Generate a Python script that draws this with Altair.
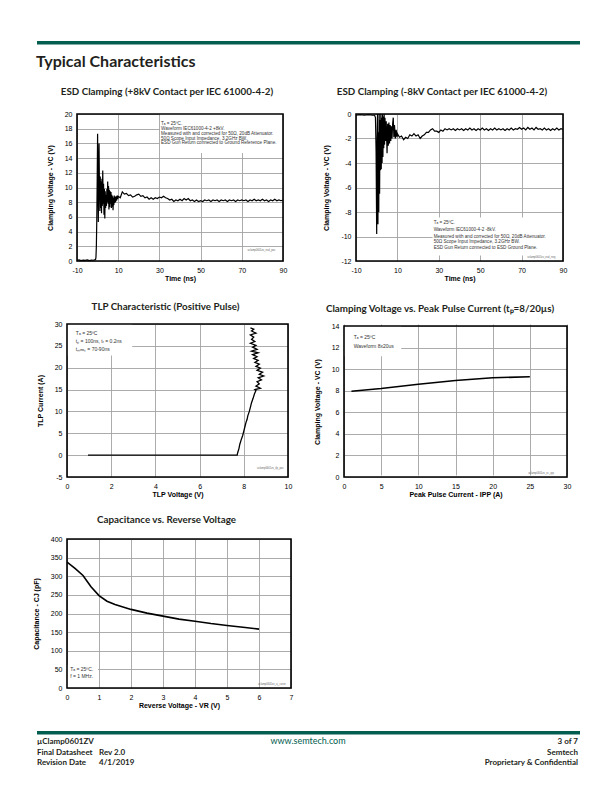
import altair as alt
import pandas as pd

# ---------------- data ----------------
# ESD clamping +8kV
esd_pos_t = [-10, -9, -8, -7, -6, -5, -4, -3, -2, -1.5, -1, -0.8, -0.6, -0.4, -0.2, 0,
             0.2, 0.35, 0.5, 0.7, 0.9, 1.1, 1.3, 1.5, 1.7, 1.9, 2.1, 2.3, 2.5, 2.7, 2.9, 3.1, 3.3, 3.5,
             3.7, 3.9, 4.1, 4.3, 4.5, 4.7, 4.9, 5.1, 5.3, 5.5, 5.7, 5.9, 6.1, 6.3, 6.5, 6.7, 6.9, 7.1,
             7.3, 7.5, 7.7, 7.9, 8.1, 8.3, 8.5, 8.7, 8.9, 9.2, 9.5, 9.8,
             10, 11, 12, 13, 14, 15, 16, 17, 18, 19, 20, 21, 22, 23, 24, 25, 26, 27, 28, 29,
             30, 31, 32, 33, 34, 35, 36, 37, 38, 39, 40, 41, 42, 43, 44, 45, 46, 47, 48, 49,
             50, 51, 52, 53, 54, 55, 56, 57, 58, 59, 60, 61, 62, 63, 64, 65, 66, 67, 68, 69,
             70, 71, 72, 73, 74, 75, 76, 77, 78, 79, 80, 81, 82, 83, 84, 85, 86, 87, 88, 89, 90]
esd_pos_v = [0.1, 0.15, 0.05, 0.12, 0.08, 0.15, 0.05, 0.12, 0.1, 0.15, 0.2, 0.5, 2.0, 5.5, 11, 17.3,
             9, 5.3, 12, 16, 10, 6.8, 11.5, 7.2, 10.8, 6.5, 11.2, 7.5, 12.3, 7.8, 10.5, 6.3, 9.8, 5.8,
             9.5, 7.2, 9.0, 7.5, 9.8, 8.0, 10.8, 7.8, 10.2, 7.0, 9.7, 7.3, 9.5, 7.8, 9.4, 7.2, 9.0, 7.4,
             8.8, 6.9, 8.6, 7.6, 8.9, 7.9, 8.7, 8.0, 8.8, 8.2, 8.9, 8.4,
             8.8, 8.6, 9.4, 9.1, 9.2, 8.9, 9.0, 8.7, 8.8, 9.0, 9.1, 8.8, 8.9, 8.6, 8.7, 8.4, 8.6, 8.4, 8.6, 8.5,
             8.7, 8.6, 8.8, 8.6, 8.5, 8.3, 8.4, 8.1, 8.3, 8.2, 8.4, 8.2, 8.5, 8.3, 8.5, 8.2, 8.3, 8.1, 8.3, 8.1,
             8.2, 8.1, 8.3, 8.2, 8.3, 8.1, 8.3, 8.2, 8.3, 8.1, 8.3, 8.2, 8.3, 8.1, 8.3, 8.2, 8.3, 8.1, 8.3, 8.2,
             8.3, 8.2, 8.3, 8.1, 8.3, 8.2, 8.4, 8.2, 8.3, 8.2, 8.4, 8.2, 8.3, 8.1, 8.3, 8.2, 8.4, 8.2, 8.3, 8.2, 8.3]

# ESD clamping -8kV
esd_neg_t = [-10, -8, -6, -4, -2, -1, -0.6, -0.3, 0, 0.2, 0.4, 0.6, 0.8, 1.0, 1.2, 1.4, 1.6, 1.8,
             2.0, 2.2, 2.4, 2.6, 2.8, 3.0, 3.2, 3.4, 3.6, 3.8, 4.0, 4.3, 4.6, 5.0, 5.3, 5.6, 5.9,
             6.2, 6.5, 6.8, 7.1, 7.4, 7.7, 8.0, 8.3, 8.6, 9.0, 9.4, 9.8,
             10, 11, 12, 13, 14, 15, 16, 17, 18, 19, 20, 21, 22, 23, 24, 25, 26, 27, 28, 29,
             30, 31, 32, 33, 34, 35, 36, 37, 38, 39, 40, 41, 42, 43, 44, 45, 46, 47, 48, 49,
             50, 51, 52, 53, 54, 55, 56, 57, 58, 59, 60, 61, 62, 63, 64, 65, 66, 67, 68, 69,
             70, 71, 72, 73, 74, 75, 76, 77, 78, 79, 80, 81, 82, 83, 84, 85, 86, 87, 88, 89, 90]
esd_neg_v = [-0.1, -0.05, -0.1, -0.05, -0.1, -0.1, -0.3, -3, -9.8, -2, 0, -9.0, -1.5, -8.0, 0, -6.5, -0.5, -4.6,
             0, -4.5, -0.3, -4.0, 0, -3.5, -0.2, -2.8, 0, -2.5, -0.3, -2.2, -0.6, -3.2, -0.8, -2.6, -0.7,
             -2.4, -0.9, -2.2, -1.0, -2.0, -0.8, -0.3, -1.9, -0.9, -2.0, -1.3, -1.9,
             -1.6, -1.9, -1.8, -2.1, -1.9, -2.0, -1.7, -1.8, -1.6, -1.8, -1.7, -2.0, -1.8, -1.7, -1.5, -1.5, -1.3, -1.2, -1.4, -1.4,
             -1.5, -1.3, -1.4, -1.2, -1.3, -1.2, -1.3, -1.2, -1.35, -1.2, -1.3, -1.2, -1.35, -1.2, -1.3, -1.15, -1.3, -1.2, -1.35, -1.2,
             -1.3, -1.15, -1.3, -1.2, -1.35, -1.2, -1.3, -1.15, -1.3, -1.2, -1.3, -1.2, -1.35, -1.2, -1.3, -1.15, -1.3, -1.2, -1.25, -1.1,
             -1.25, -1.15, -1.3, -1.1, -1.25, -1.15, -1.3, -1.1, -1.25, -1.2, -1.3, -1.15, -1.3, -1.2, -1.35, -1.2, -1.3, -1.15, -1.3, -1.2, -1.25]

# TLP characteristic
tlp_v = [0.95, 7.7, 7.72, 7.78, 7.82, 7.88, 7.95, 8.0, 8.05, 8.1, 8.15, 8.18, 8.25, 8.3, 8.35, 8.42, 8.48, 8.55,
         8.5, 8.75, 8.55, 8.7, 8.6, 8.8, 8.65, 8.9, 8.7, 8.85, 8.6, 8.75, 8.55, 8.7, 8.5, 8.65, 8.45,
         8.6, 8.4, 8.65, 8.35, 8.6, 8.4, 8.55, 8.3, 8.5, 8.35, 8.45, 8.3, 8.55, 8.35, 8.45, 8.3]
tlp_i = [0, 0, 0.5, 1.5, 2.5, 3.5, 4.5, 5.5, 6.5, 7.5, 8.2, 9, 10, 11, 12, 13, 14, 14.8,
         15, 15.3, 15.8, 16.3, 16.8, 17.2, 17.7, 18.1, 18.5, 19, 19.4, 19.9, 20.3, 20.8, 21.2, 21.7, 22.1,
         22.5, 23, 23.4, 23.8, 24.2, 24.7, 25.1, 25.6, 26, 26.5, 27, 27.5, 27.9, 28.4, 28.8, 29.1]

# Clamping voltage vs peak pulse current
ipp = [1, 5, 10, 15, 20, 25]
vc = [7.95, 8.2, 8.6, 8.95, 9.2, 9.3]

# Capacitance vs reverse voltage
vr = [0, 0.25, 0.5, 0.75, 1, 1.25, 1.5, 2, 2.5, 3, 3.5, 4, 4.5, 5, 5.5, 6]
cj = [338, 321, 302, 272, 248, 233, 224, 211, 201, 193, 185, 179, 173, 168, 163, 158]

# axis tick values
x1_ticks = [-10, 10, 30, 50, 70, 90]
y1_ticks = [0, 2, 4, 6, 8, 10, 12, 14, 16, 18, 20]
y2_ticks = [-12, -10, -8, -6, -4, -2, 0]
x3_ticks = [0, 2, 4, 6, 8, 10]
y3_ticks = [-5, 0, 5, 10, 15, 20, 25, 30]
x4_ticks = [0, 5, 10, 15, 20, 25, 30]
y4_ticks = [0, 2, 4, 6, 8, 10, 12, 14]
x5_ticks = [0, 1, 2, 3, 4, 5, 6, 7]
y5_ticks = [0, 50, 100, 150, 200, 250, 300, 350, 400]

notes1 = ["Tₐ = 25ºC.", "Waveform IEC61000-4-2 +8kV.",
          "Measured with and corrected for 50Ω, 20dB Attenuator.",
          "50Ω Scope Input Impedance, 3.2GHz BW.",
          "ESD Gun Return connected to Ground Reference Plane."]
notes2 = ["Tₐ = 25ºC.", "Waveform IEC61000-4-2 -8kV.",
          "Measured with and corrected for 50Ω, 20dB Attenuator.",
          "50Ω Scope Input Impedance, 3.2GHz BW.",
          "ESD Gun Return connected to ESD Ground Plane."]
notes3 = ["Tₐ = 25ºC", "tₚ = 100ns, tᵣ = 0.2ns", "tₘₑₐₛ = 70-90ns"]
notes4 = ["Tₐ = 25ºC", "Waveform 8x20us"]
notes5 = ["Tₐ = 25ºC.", "f = 1 MHz."]

# ---------------- styling ----------------
GREEN = "#035e4f"
TF = "Lato"
AF = "Liberation Sans"
GRID = "#a3a3a3"
INK = "#231f20"


def axis(values, title, label_pad, title_pad, offset=0, title_x=None):
    kw = {}
    if offset:
        kw["offset"] = offset
    if title_x is not None:
        kw["titleX"] = title_x
    return alt.Axis(values=values, title=title, grid=True, gridColor=GRID, gridWidth=0.9,
                    domain=False, ticks=False, labelFont=AF, labelFontSize=7, labelColor="black",
                    labelPadding=label_pad, labelFlush=False, labelOverlap=False,
                    labelExpr="replace(datum.label, '\u2212', '-')",
                    titleFont=AF, titleFontSize=7, titleFontWeight="bold", titleColor="black",
                    titlePadding=title_pad, **kw)


def panel(xs_, ys_, xdom, ydom, xticks, yticks, xtitle, ytitle, title, tdx, toff, w, h,
          box, notes, note_x, note_y, note_size, wm, wm_x, wm_y, sw=1.2, left=0, top=0):
    if left:
        xs = alt.Scale(domain=xdom, nice=False, zero=False, range=[left, w])
        ax = axis(xticks, xtitle, 5, 1, title_x=(left + w) / 2)
        ay = axis(yticks, ytitle, 5, 11, offset=-left)
    else:
        xs = alt.Scale(domain=xdom, nice=False, zero=False)
        ax = axis(xticks, xtitle, 5, 1)
        ay = axis(yticks, ytitle, 5, 11)
    if top:
        ys = alt.Scale(domain=ydom, nice=False, zero=False, range=[h, top])
    else:
        ys = alt.Scale(domain=ydom, nice=False, zero=False)
    df = pd.DataFrame({"x": xs_, "y": ys_, "i": list(range(len(xs_)))})
    bdf = pd.DataFrame({"x0": [box[0]], "x1": [box[1]], "y0": [box[2]], "y1": [box[3]]})
    fdf = pd.DataFrame({"x0": [xdom[0]], "x1": [xdom[1]], "y0": [ydom[0]], "y1": [ydom[1]]})
    ndf = pd.DataFrame({"x": [note_x] * len(notes), "y": note_y, "s": notes})
    wdf = pd.DataFrame({"x": [wm_x], "y": [wm_y], "s": [wm]})
    bx = alt.Chart(bdf).mark_rect(fill="white").encode(
        x=alt.X("x0:Q", scale=xs, axis=ax), x2="x1:Q",
        y=alt.Y("y0:Q", scale=ys, axis=ay), y2="y1:Q")
    ln = alt.Chart(df).mark_line(color="black", strokeWidth=sw, clip=True).encode(
        x=alt.X("x:Q", scale=xs, axis=ax), y=alt.Y("y:Q", scale=ys, axis=ay), order="i:Q")
    nt = alt.Chart(ndf).mark_text(align="left", baseline="middle", font=AF,
                                  fontSize=note_size, color="#333333").encode(
        x=alt.X("x:Q", scale=xs, axis=ax), y=alt.Y("y:Q", scale=ys, axis=ay), text="s:N")
    wt = alt.Chart(wdf).mark_text(align="center", baseline="middle", font=AF,
                                  fontSize=2.6, color="#666666").encode(
        x=alt.X("x:Q", scale=xs, axis=ax), y=alt.Y("y:Q", scale=ys, axis=ay), text="s:N")
    fr = alt.Chart(fdf).mark_rect(fillOpacity=0, stroke="black", strokeWidth=1.6).encode(
        x=alt.X("x0:Q", scale=xs, axis=ax), x2="x1:Q",
        y=alt.Y("y0:Q", scale=ys, axis=ay), y2="y1:Q")
    return alt.layer(bx, ln, nt, wt, fr).properties(
        width=w, height=h,
        title=alt.TitleParams(text=title, font=TF, fontSize=9.8, fontWeight="bold", color=INK,
                              anchor="middle", frame="group", dx=tdx, offset=toff),
        view=alt.ViewBackground(stroke="transparent"))


def spacer(w, h):
    return alt.Chart(pd.DataFrame({"v": [0]})).mark_point(opacity=0).encode(
        x=alt.value(0), y=alt.value(0)).properties(
        width=w, height=h, view=alt.ViewBackground(stroke="transparent"))


one = pd.DataFrame({"v": [0]})

c1 = panel(esd_pos_t, esd_pos_v, [-10, 90], [0, 20], x1_ticks, y1_ticks, "Time (ns)",
           "Clamping Voltage - VC (V)", "ESD Clamping (+8kV Contact per IEC 61000-4-2)", -8, 13,
           216, 147, [30.3, 90, 14.7, 20], notes1, 30.8, [18.6, 17.96, 17.32, 16.64, 16.0], 4.6,
           "uclamp0601zv_esd_pos", 79.5, 1.4, left=10)
c2 = panel(esd_neg_t, esd_neg_v, [-10, 90], [-12, 0], x1_ticks, y2_ticks, "Time (ns)",
           "Clamping Voltage - VC (V)", "ESD Clamping (-8kV Contact per IEC 61000-4-2)", -11.5, 13,
           219, 147, [27, 90, -11.55, -8.45], notes2, 27.5, [-8.9, -9.47, -10.0, -10.47, -10.96], 4.6,
           "uclamp0601zv_esd_neg", 79.5, -11.7, left=12)
c3 = panel(tlp_v, tlp_i, [0, 10], [-5, 30], x3_ticks, y3_ticks, "TLP Voltage (V)",
           "TLP Current (A)", "TLP Characteristic (Positive Pulse)", -12, 8,
           221, 153, [0, 2.95, 22.8, 30], notes3, 0.4, [27.9, 26.0, 24.3], 5,
           "uclamp0601zv_tlp_pos", 9.2, -3.0, 1.3)
c4 = panel(ipp, vc, [0, 30], [0, 14], x4_ticks, y4_ticks, "Peak Pulse Current - IPP (A)",
           "Clamping Voltage - VC (V)", "Clamping Voltage vs. Peak Pulse Current (tₚ=8/20µs)", -15.5, 8,
           223, 153, [0, 7.7, 11.2, 14], notes4, 1.3, [12.95, 12.17], 5,
           "uclamp0601zv_vc_ipp", 26.5, 0.3, 1.6, top=2)
c5 = panel(vr, cj, [0, 7], [0, 400], x5_ticks, y5_ticks, "Reverse Voltage - VR (V)",
           "Capacitance - CJ (pF)", "Capacitance vs. Reverse Voltage", -12.5, 10,
           224, 149, [0, 0.97, 0, 62], notes5, 0.1, [51, 33], 5,
           "uclamp0601zv_cj_curve", 6.4, 11, 1.6)

# header
header = alt.layer(
    alt.Chart(one).mark_rule(color=GREEN, strokeWidth=3.5).encode(
        x=alt.value(-30), x2=alt.value(513), y=alt.value(1.75)),
    alt.Chart(one).mark_text(text="Typical Characteristics", font=TF, fontSize=16,
                             fontWeight="bold", align="left", baseline="alphabetic",
                             color=INK).encode(x=alt.value(-31), y=alt.value(26)),
).properties(width=1, height=73, view=alt.ViewBackground(stroke="transparent"))


def ftext(s, x, y, align="left", weight="bold", color=INK, size=8):
    return alt.Chart(one).mark_text(text=s, font=TF, fontSize=size, fontWeight=weight,
                                    align=align, baseline="alphabetic", color=color).encode(
        x=alt.value(x), y=alt.value(y))


footer = alt.layer(
    alt.Chart(one).mark_rule(color=GREEN, strokeWidth=3.5).encode(
        x=alt.value(-30), x2=alt.value(513), y=alt.value(1.75)),
    ftext("µClamp0601ZV", -30, 13),
    ftext("Final Datasheet", -30, 23.5),
    ftext("Revision Date", -30, 34),
    ftext("Rev 2.0", 32, 23.5),
    ftext("4/1/2019", 32, 34),
    ftext("www.semtech.com", 241, 13, align="center", weight="normal", color=GREEN, size=9),
    ftext("3 of 7", 511, 13, align="right"),
    ftext("Semtech", 511, 23.5, align="right"),
    ftext("Proprietary & Confidential", 511, 34, align="right"),
).properties(width=1, height=36, view=alt.ViewBackground(stroke="transparent"))

cells = [
    header, spacer(1, 1), spacer(1, 1),
    c1, spacer(53, 1), c2,
    spacer(1, 63), spacer(1, 1), spacer(1, 1),
    c3, spacer(1, 1), c4,
    spacer(1, 62), spacer(1, 1), spacer(1, 1),
    c5, spacer(1, 1), spacer(1, 1),
    spacer(1, 43), spacer(1, 1), spacer(1, 1),
    footer, spacer(1, 1), spacer(1, 1),
]

chart = alt.concat(*cells, columns=3, spacing=0, bounds="flush", align="each").properties(
    padding={"left": 23, "top": 29, "right": 0, "bottom": 0})

chart.save("out.html", embed_options={"renderer": "svg", "actions": False})
